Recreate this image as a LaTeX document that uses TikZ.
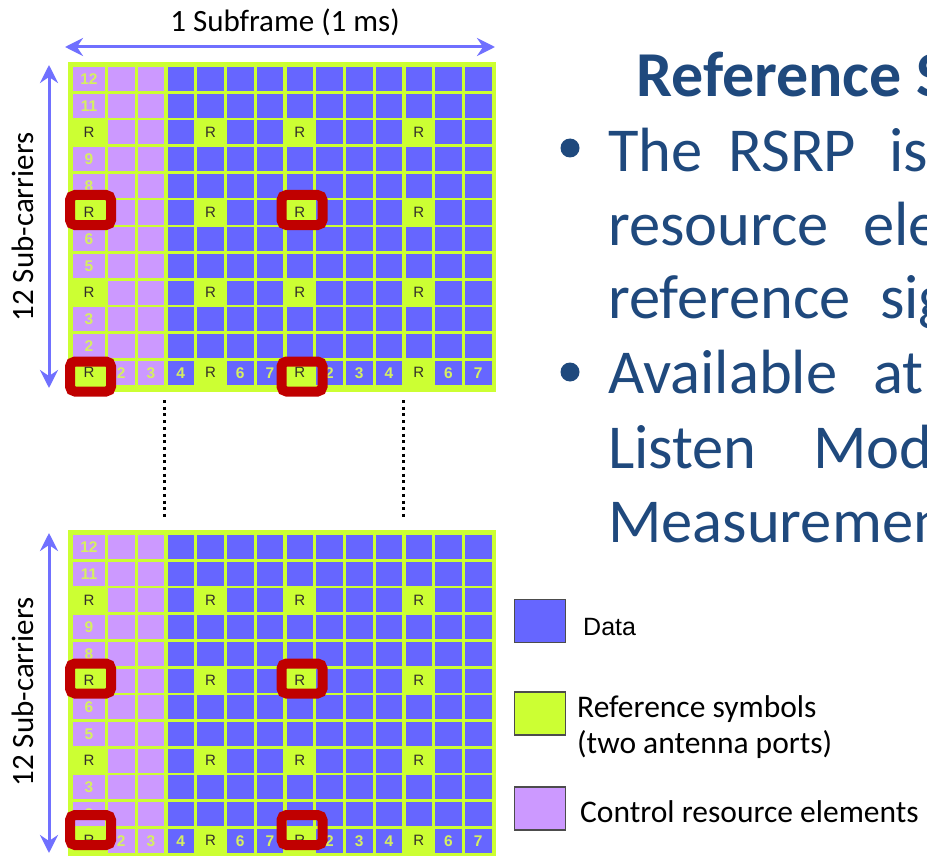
\documentclass[tikz,border=0pt]{standalone}
\usepackage{fontspec}
\setmainfont{Carlito}
\newfontfamily\arialfont{Liberation Sans}
\usetikzlibrary{arrows.meta,positioning}
\definecolor{gridgreen}{HTML}{CCFF33}
\definecolor{datablue}{HTML}{6666FF}
\definecolor{ctrlpurple}{HTML}{CC99FF}
\definecolor{markred}{HTML}{C00000}
\definecolor{arrowblue}{HTML}{7070FF}
\definecolor{textblue}{HTML}{1F497D}
\definecolor{numgreen}{HTML}{D6F060}

\begin{document}
\begin{tikzpicture}[x=1pt, y=-1pt,
  gridframe/.style={fill=gridgreen, minimum width=428pt, minimum height=330pt, inner sep=0pt},
  dimarrow/.style={arrowblue, line width=3pt, >={Stealth[length=18pt,width=18pt,inset=6pt]}, <->},
  dimlabel/.style={font=\fontsize{31}{31}\selectfont, inner sep=0pt},
  celltext/.style={font=\arialfont\bfseries\fontsize{15.5}{15.5}\selectfont, text=numgreen, inner sep=0pt},
  reftext/.style={font=\arialfont\fontsize{15}{15}\selectfont, text=black!85!olive, inner sep=0pt},
  markbox/.style={draw=markred, line width=10pt, rounded corners=5pt, minimum width=41pt, minimum height=30pt, inner sep=0pt},
  gapline/.style={line width=3pt, dash pattern=on 3pt off 3.7pt},
  keybox/.style={draw=black!70, line width=1.5pt, minimum width=51pt, minimum height=43pt, inner sep=0pt},
  keytext/.style={font=\fontsize{31.5}{36}\selectfont, inner sep=0pt, anchor=base west, align=left},
  bodytext/.style={font=\fontsize{62.5}{74}\selectfont, text=textblue, inner sep=0pt, anchor=base west}]
\useasboundingbox (0,0) rectangle (927,856);
\clip (0,0) rectangle (927,856);

\foreach \gy in {0,468} {
  \node (frame\gy) [gridframe] at (282,227+\gy) {};
  \foreach \r in {1,...,12} {
    \foreach \c in {1,...,14} {
      \pgfmathsetmacro\xl{\c==1 ? 73 : 108+(\c-2)*29.75}
      \pgfmathsetmacro\xr{\c==1 ? 105 : \xl+26.5}
      \pgfmathsetmacro\yt{67+(12-\r)*26.7+\gy}
      \pgfmathsetmacro\yb{\yt+24}
      \pgfmathsetmacro\xc{(\xl+\xr)/2}
      \pgfmathsetmacro\yc{(\yt+\yb)/2}
      \pgfmathtruncatemacro\cn{\c>7 ? \c-7 : \c}
      \pgfmathtruncatemacro\isref{(mod(\r,3)==1)&&((\c==1)||(\c==5)||(\c==8)||(\c==12))}
      \ifnum\isref=1
        \node (cell\gy-\r-\c) [reftext] at (\xc,\yc) {R};
      \else
        \ifnum\c<4 \fill[ctrlpurple] (\xl,\yt) rectangle (\xr,\yb); \else \fill[datablue] (\xl,\yt) rectangle (\xr,\yb); \fi
        \ifnum\c=1 \node (cell\gy-\r-\c) [celltext] at (\xc,\yc) {\r}; \fi
        \ifnum\r=1 \ifnum\c>1 \node (cell\gy-\r-\c) [celltext] at (\xc,\yc) {\cn}; \fi\fi
      \fi
    }
  }
}

\foreach \mx/\my [count=\i] in {90.5/210, 302/210, 90.5/376.5, 302/376.5, 90.5/678.5, 302/678.5, 90.5/830, 302/830}
  \node (mark\i) [markbox] at (\mx,\my) {};

\coordinate (sfleft) at (65,47);
\coordinate (sfright) at (495,47);
\draw[dimarrow] (sfleft) -- (sfright);
\node (sflabel) [dimlabel, anchor=base] at (285,32) {1 Subframe (1 ms)};

\coordinate (sctop1) at (49,65);
\coordinate (scbot1) at (49,388);
\coordinate (sctop2) at (49,533);
\coordinate (scbot2) at (49,853);
\draw[dimarrow] (sctop1) -- (scbot1);
\draw[dimarrow] (sctop2) -- (scbot2);
\node (sclabel1) [dimlabel, rotate=90] at (23,227) {12 Sub-carriers};
\node (sclabel2) [dimlabel, rotate=90] at (23,692) {12 Sub-carriers};

\coordinate (gapa1) at (164,400);
\coordinate (gapa2) at (164,520);
\coordinate (gapb1) at (403,400);
\coordinate (gapb2) at (403,520);
\draw[gapline] (gapa1) -- (gapa2);
\draw[gapline] (gapb1) -- (gapb2);

\node (title) [bodytext, font=\bfseries\fontsize{64}{74}\selectfont] at (636,97) {Reference S};
\node (bullet1) [circle, fill=textblue, minimum size=19pt, inner sep=0pt] at (570,148) {};
\node (bullet2) [circle, fill=textblue, minimum size=19pt, inner sep=0pt] at (570,372) {};
\foreach \wx/\wy/\word [count=\i] in {608/172/The, 728/172/RSRP, 889/172/is, 608/245/resource, 863/245/ele, 608/318/reference, 880/318/sig, 608/393/Available, 873/393/at, 608/468/Listen, 813/468/Mod, 608/542/Measuremen}
  \node (word\i) [bodytext] at (\wx,\wy) {\word};

\node (datakey) [keybox, fill=datablue] at (540,621) {};
\node (refkey) [keybox, fill=gridgreen] at (540,713.5) {};
\node (ctrlkey) [keybox, fill=ctrlpurple] at (540,808.5) {};
\node (datalabel) [keytext, font=\arialfont\fontsize{25}{25}\selectfont] at (583,635) {Data};
\node (reflabel) [keytext] at (577,753) {Reference symbols\\(two antenna ports)};
\node (ctrllabel) [keytext] at (580,822) {Control resource elements};
\end{tikzpicture}
\end{document}
